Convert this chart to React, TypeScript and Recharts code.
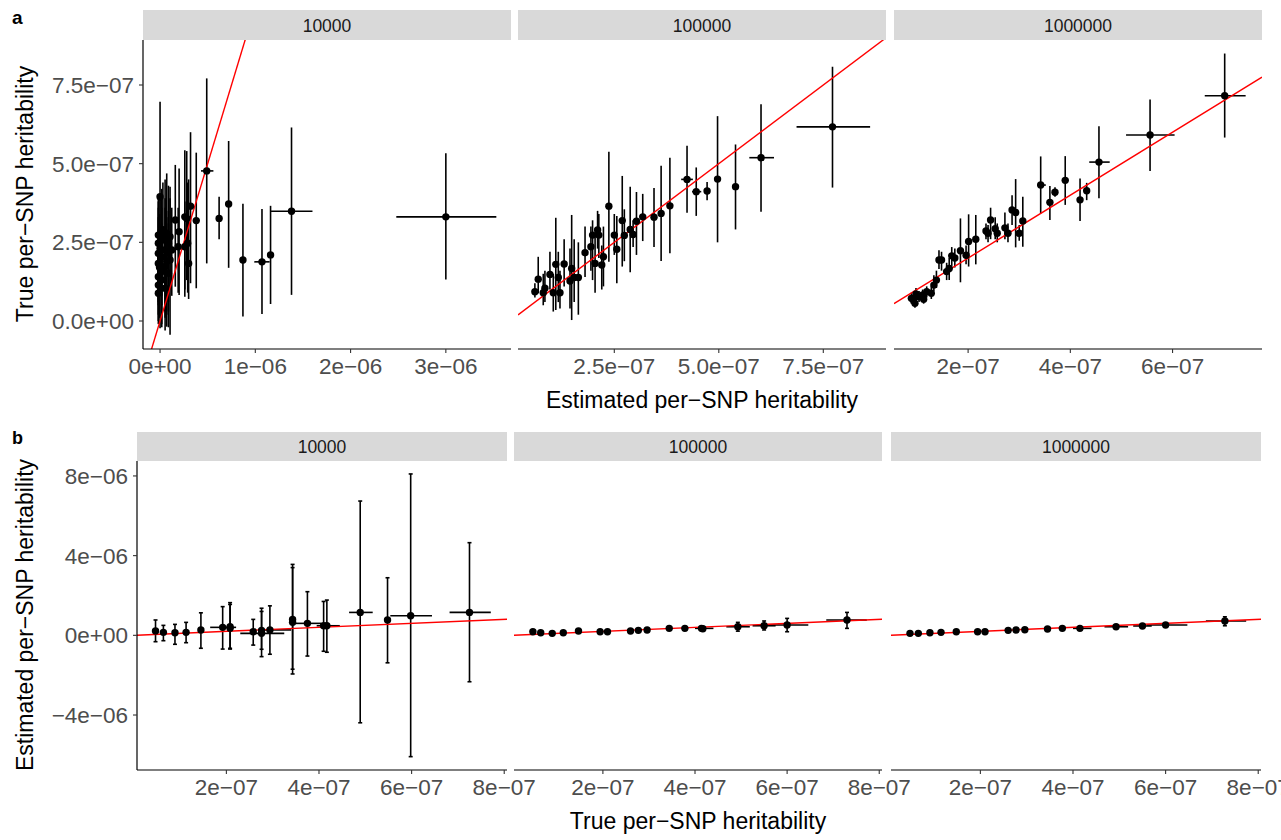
import React from 'react';
import { ScatterChart, Scatter, XAxis, YAxis, ErrorBar, ReferenceLine } from 'recharts';

// all values are per-SNP heritability in units of 1e-7
// each row: [x, y, yLow, yHigh, xLow?, xHigh?]
type Row = number[];

const UNIT = 1e-7;
const facetLabels = ['10000', '100000', '1000000'];

// panel a: x = estimated, y = true
const estVsTrue10k: Row[] = [
  [30.0, 3.31, 1.32, 5.33, 24.8, 35.3],
  [13.8, 3.49, 0.83, 6.15, 11.65, 16.0],
  [11.6, 2.10, 0.54, 3.66],
  [10.7, 1.88, 0.22, 3.56, 9.9, 11.5],
  [8.7, 1.94, 0.14, 3.73],
  [7.2, 3.72, 1.69, 5.72, 7.0, 7.4],
  [6.2, 3.26, 2.60, 3.95],
  [4.9, 4.77, 1.83, 7.71, 4.3, 5.6],
  [3.8, 3.19, 1.04, 5.35],
  [3.2, 3.65, 1.20, 6.00],
  [2.8, 3.26, 1.30, 5.40],
  [2.6, 3.31, 0.77, 5.43],
  [2.9, 2.47, 0.90, 4.40],
  [3.0, 1.83, 0.70, 4.50],
  [2.0, 2.84, 0.83, 4.85],
  [1.6, 3.21, 1.09, 4.96],
  [1.9, 2.36, 0.90, 3.60],
  [2.6, 2.36, 1.00, 3.80],
  [1.05, 1.94, -0.44, 4.27],
  [0.7, 2.79, -0.18, 4.69],
  [0.0, 3.95, -0.23, 6.97],
  [-0.18, 2.73, 1.2, 3.9],
  [-0.18, 2.47, 0.9, 3.8],
  [-0.18, 2.15, 0.6, 3.6],
  [-0.18, 1.83, 0.5, 3.3],
  [-0.18, 1.41, 0.2, 2.9],
  [-0.18, 1.14, 0.0, 2.4],
  [-0.18, 0.88, -0.1, 2.2],
  [0.18, 2.57, 0.8, 4.2],
  [0.18, 2.04, 0.5, 3.6],
  [0.18, 1.57, -0.1, 3.1],
  [0.18, 1.30, -0.2, 2.9],
  [0.53, 2.68, 1.0, 4.5],
  [0.53, 2.26, 0.3, 3.9],
  [0.53, 1.73, 0.1, 3.6],
  [0.53, 1.04, -0.3, 2.6],
  [0.88, 2.47, 0.6, 4.3],
  [0.88, 2.15, 0.3, 3.5],
  [0.88, 1.52, -0.2, 3.1],
  [1.23, 2.26, 0.8, 3.6],
  [1.05, 2.68, 1.0, 3.9],
  [0.3, 2.9, 1.3, 4.4],
  [0.0, 2.3, 0.9, 3.9],
  [-0.05, 1.7, 0.1, 3.4],
  [0.7, 1.9, 0.2, 3.3],
];

const estVsTrue100k: Row[] = [
  [7.72, 6.17, 4.24, 8.08, 6.86, 8.62],
  [6.01, 5.19, 3.47, 6.89, 5.73, 6.32],
  [5.40, 4.27, 2.91, 5.61],
  [4.97, 4.51, 2.50, 6.51],
  [4.72, 4.13, 3.84, 4.42],
  [4.46, 4.11, 3.34, 4.88, 4.36, 4.58],
  [4.24, 4.50, 3.44, 5.57, 4.10, 4.38],
  [3.83, 3.66, 2.15, 5.19],
  [3.62, 3.42, 1.91, 4.93],
  [3.45, 3.30, 2.35, 4.23],
  [3.18, 3.31, 2.54, 4.04],
  [3.03, 3.17, 2.10, 4.10],
  [2.95, 2.75, 2.35, 3.20],
  [2.88, 2.91, 1.55, 4.27],
  [2.74, 2.72, 1.90, 3.55],
  [2.69, 3.19, 1.73, 4.61],
  [2.56, 2.28, 1.20, 3.34],
  [2.50, 2.73, 2.10, 3.40],
  [2.37, 3.65, 1.88, 5.38],
  [2.24, 2.04, 1.10, 3.00],
  [2.20, 1.78, 1.00, 2.40],
  [2.13, 2.73, 2.00, 3.40],
  [2.10, 2.89, 2.30, 3.50],
  [2.04, 1.83, 0.90, 2.80],
  [1.98, 2.73, 1.30, 3.20],
  [1.94, 2.36, 1.60, 3.00],
  [1.80, 2.17, 1.40, 3.00],
  [1.64, 1.38, 0.20, 2.50],
  [1.54, 1.38, 0.60, 2.60],
  [1.48, 1.67, 0.03, 3.37],
  [1.44, 1.27, 0.40, 2.30],
  [1.30, 1.81, 1.10, 2.60],
  [1.20, 0.90, 0.40, 1.60],
  [1.16, 1.38, 0.60, 2.20],
  [1.10, 1.80, 0.35, 3.28],
  [1.04, 0.90, 0.30, 1.50],
  [0.96, 1.48, 1.00, 2.20],
  [0.84, 1.04, 0.60, 1.60],
  [0.80, 0.90, 0.50, 1.50],
  [0.68, 1.33, 0.88, 2.04],
  [0.60, 0.93, 0.75, 1.20],
];

const estVsTrue1m: Row[] = [
  [7.02, 7.16, 5.83, 8.50, 6.63, 7.43],
  [5.56, 5.91, 4.77, 7.04, 5.09, 6.04],
  [4.56, 5.05, 3.90, 6.19, 4.37, 4.77],
  [4.32, 4.14, 3.84, 4.39],
  [4.19, 3.85, 3.18, 4.53],
  [3.90, 4.47, 3.69, 5.24, 3.84, 3.96],
  [3.70, 4.09, 3.95, 4.25],
  [3.60, 3.77, 3.21, 4.29],
  [3.42, 4.32, 3.42, 5.23, 3.35, 3.52],
  [3.07, 3.18, 2.36, 3.95],
  [3.00, 2.79, 2.55, 3.05],
  [2.93, 3.45, 2.34, 4.51],
  [2.86, 3.53, 3.05, 4.00],
  [2.78, 2.79, 2.50, 3.10],
  [2.72, 2.96, 2.60, 3.45],
  [2.57, 2.79, 2.50, 3.10],
  [2.53, 2.93, 2.60, 3.30],
  [2.44, 3.21, 2.60, 3.60],
  [2.39, 2.79, 2.50, 3.05],
  [2.35, 2.86, 2.60, 3.10],
  [2.15, 2.60, 1.80, 3.37],
  [2.01, 2.53, 1.73, 3.39],
  [1.96, 2.09, 1.80, 2.40],
  [1.85, 2.23, 1.23, 3.26],
  [1.74, 2.00, 1.70, 2.30],
  [1.68, 2.07, 1.75, 2.35],
  [1.63, 1.67, 1.30, 2.00],
  [1.58, 1.57, 1.30, 1.85],
  [1.48, 1.94, 1.60, 2.20],
  [1.43, 1.94, 1.65, 2.25],
  [1.38, 1.30, 1.05, 1.60],
  [1.33, 1.14, 0.95, 1.45],
  [1.28, 0.88, 0.70, 1.10],
  [1.19, 0.93, 0.75, 1.10],
  [1.13, 0.69, 0.55, 0.85],
  [1.11, 0.83, 0.65, 1.00],
  [1.04, 0.77, 0.60, 0.95],
  [0.98, 0.86, 0.70, 1.05],
  [0.96, 0.56, 0.42, 0.70],
  [0.93, 0.67, 0.50, 0.85],
  [0.89, 0.72, 0.55, 0.90],
];

// panel b: x = true, y = estimated
const trueVsEst10k: Row[] = [
  [7.25, 11.5, -23.3, 46.5, 6.82, 7.71],
  [5.98, 9.8, -60.9, 81.0, 5.54, 6.44],
  [5.48, 7.7, -13.8, 28.9],
  [4.89, 11.5, -43.9, 67.4, 4.65, 5.16],
  [4.17, 4.8, -8.5, 17.7, 3.95, 4.45],
  [4.10, 4.8, -8.0, 17.0],
  [3.75, 6.0, -10.4, 21.9, 3.45, 4.05],
  [3.43, 8.0, -19.4, 35.6],
  [3.43, 6.5, -17.0, 34.0],
  [2.94, 2.7, -9.5, 14.8, 2.75, 3.4],
  [2.76, 1.0, -10.7, 13.6, 2.3, 3.25],
  [2.76, 2.5, -7.0, 12.0],
  [2.58, 1.8, -4.9, 8.0],
  [2.08, 4.3, -6.9, 16.4],
  [2.08, 3.5, -6.5, 15.5],
  [1.92, 4.0, -6.9, 14.4, 1.65, 2.21],
  [1.45, 2.7, -6.5, 11.3],
  [1.13, 1.5, -3.7, 6.5],
  [0.89, 1.3, -4.5, 5.5],
  [0.64, 1.5, -2.7, 5.0],
  [0.47, 2.2, -3.2, 7.7],
];

const trueVsEst100k: Row[] = [
  [0.48, 1.8, 1.3, 2.3],
  [0.65, 1.3, 0.9, 1.7],
  [0.90, 1.0, 0.6, 1.4],
  [1.14, 1.3, 0.9, 1.7],
  [1.47, 2.2, 1.7, 2.7],
  [1.94, 1.8, 1.3, 2.3],
  [2.10, 1.8, 1.3, 2.3],
  [2.60, 2.2, 1.7, 2.7],
  [2.77, 2.5, 2.0, 3.0],
  [2.96, 2.7, 2.2, 3.2],
  [3.44, 3.5, 3.0, 4.0],
  [3.78, 3.5, 3.0, 4.0],
  [4.14, 3.5, 2.9, 4.1, 4.0, 4.4],
  [4.17, 3.3, 2.7, 3.9],
  [4.93, 4.3, 2.1, 6.5, 4.68, 5.19],
  [5.50, 4.8, 2.7, 7.2, 5.25, 5.75],
  [6.00, 5.2, 1.8, 8.5, 5.55, 6.46],
  [7.30, 7.7, 3.5, 11.5, 6.85, 7.73],
];

const trueVsEst1m: Row[] = [
  [0.48, 1.0, 0.7, 1.3],
  [0.66, 1.0, 0.7, 1.3],
  [0.91, 1.3, 1.0, 1.6],
  [1.15, 1.5, 1.2, 1.8],
  [1.48, 1.8, 1.5, 2.1],
  [1.94, 1.8, 1.5, 2.1],
  [2.10, 1.8, 1.5, 2.1],
  [2.60, 2.5, 2.2, 2.8],
  [2.77, 2.7, 2.4, 3.0],
  [2.96, 2.8, 2.5, 3.1],
  [3.45, 3.2, 2.9, 3.5],
  [3.77, 3.5, 3.2, 3.8],
  [4.15, 3.5, 3.1, 3.9, 4.0, 4.4],
  [4.93, 4.3, 3.8, 4.8, 4.68, 5.19],
  [5.50, 4.7, 4.1, 5.3, 5.3, 5.7],
  [6.00, 5.2, 4.6, 5.8, 5.6, 6.47],
  [7.28, 7.2, 4.8, 9.3, 6.87, 7.74],
];

const FONT = "'Liberation Sans', Arial, Helvetica, sans-serif";

// R style scientific labels, e.g. 2.5e-07
function sci(v: number, digits: number) {
  const [m, e] = (v * UNIT).toExponential(digits).split('e');
  const sign = e[0] === '-' ? '\u2212' : '+';
  const ex = e.replace(/[+-]/, '').padStart(2, '0');
  return m.replace('-', '\u2212') + 'e' + sign + ex;
}

const toPoints = (rows: Row[]) =>
  rows.map(([x, y, yLo, yHi, xLo = x, xHi = x]) => ({
    x,
    y,
    ey: [y - yLo, yHi - y],
    ex: [x - xLo, xHi - x],
  }));

const Dot = (p: any) => <circle cx={p.cx} cy={p.cy} r={3.7} fill="#000" />;

type PanelProps = {
  rows: Row[];
  left: number;
  top: number;
  w: number;
  h: number;
  xDomain: number[];
  yDomain: number[];
  xTicks: number[];
  yTicks: number[];
  xDigits: number;
  yDigits: number;
  yAxisW: number;
  cap: number;
};

function Panel(props: PanelProps) {
  const { rows, left, top, w, h, xDomain, yDomain, xTicks, yTicks, xDigits, yDigits, yAxisW, cap } = props;
  const data = toPoints(rows);
  const pad = 40;
  return (
    <div style={{ position: 'absolute', left: left - yAxisW, top }}>
      <ScatterChart width={yAxisW + w + pad} height={h + 50} margin={{ top: 0, right: pad, bottom: 0, left: 0 }}>
        <XAxis
          type="number"
          dataKey="x"
          domain={xDomain}
          ticks={xTicks}
          interval={0}
          allowDataOverflow
          height={50}
          tickFormatter={(v: number) => sci(v, xDigits)}
          tick={{ fill: '#4d4d4d', fontSize: 22.5, fontFamily: FONT }}
          tickSize={4}
          tickMargin={5}
          axisLine={{ stroke: '#000', strokeWidth: 1.2 }}
          tickLine={{ stroke: '#333', strokeWidth: 1.1 }}
        />
        <YAxis
          type="number"
          dataKey="y"
          domain={yDomain}
          ticks={yTicks}
          interval={0}
          allowDataOverflow
          hide={yAxisW === 0}
          width={yAxisW}
          tickFormatter={(v: number) => sci(v, yDigits)}
          tick={{ fill: '#4d4d4d', fontSize: 22.5, fontFamily: FONT }}
          tickSize={4}
          tickMargin={5}
          axisLine={{ stroke: '#000', strokeWidth: 1.2 }}
          tickLine={{ stroke: '#333', strokeWidth: 1.1 }}
        />
        <Scatter data={data} isAnimationActive={false} shape={Dot}>
          <ErrorBar dataKey="ey" direction="y" width={cap} stroke="#000" strokeWidth={1.6} />
          <ErrorBar dataKey="ex" direction="x" width={0} stroke="#000" strokeWidth={1.6} />
        </Scatter>
        <ReferenceLine
          segment={[
            { x: xDomain[0], y: xDomain[0] },
            { x: xDomain[1], y: xDomain[1] },
          ]}
          stroke="#ff0000"
          strokeWidth={1.4}
          ifOverflow="hidden"
        />
      </ScatterChart>
    </div>
  );
}

const topY = [-0.89, 8.93];
const topYTicks = [0, 2.5, 5, 7.5];
const botX = [0.07, 8.06];
const botXTicks = [2, 4, 6, 8];
const botY = [-67.6, 87.5];
const botYTicks = [-40, 0, 40, 80];

const topStrips = [
  { x: 143, w: 368 },
  { x: 518, w: 368 },
  { x: 894, w: 368 },
];
const botStrips = [
  { x: 137, w: 370 },
  { x: 514, w: 368 },
  { x: 891, w: 370 },
];

export default function App() {
  return (
    <div style={{ position: 'absolute', left: 0, top: 0, width: 1281, height: 840, overflow: 'hidden', background: '#fff', fontFamily: FONT }}>
      <svg width={1281} height={840} style={{ position: 'absolute', left: 0, top: 0 }}>
        {topStrips.map((s, i) => (
          <g key={'t' + i}>
            <rect x={s.x} y={10} width={s.w} height={30} fill="#d9d9d9" />
            <text x={s.x + s.w / 2} y={31.5} textAnchor="middle" fontSize={17.5} fill="#1a1a1a" fontFamily={FONT}>
              {facetLabels[i]}
            </text>
          </g>
        ))}
        {botStrips.map((s, i) => (
          <g key={'b' + i}>
            <rect x={s.x} y={432} width={s.w} height={29} fill="#d9d9d9" />
            <text x={s.x + s.w / 2} y={452.5} textAnchor="middle" fontSize={17.5} fill="#1a1a1a" fontFamily={FONT}>
              {facetLabels[i]}
            </text>
          </g>
        ))}
        <text x={12} y={24} fontSize={19} fontWeight="bold" fontFamily={FONT}>a</text>
        <text x={12} y={444} fontSize={18} fontWeight="bold" fontFamily={FONT}>b</text>
        <text x={702} y={408} textAnchor="middle" fontSize={23} fontFamily={FONT}>
          Estimated per{'\u2212'}SNP heritability
        </text>
        <text x={698} y={829} textAnchor="middle" fontSize={23} fontFamily={FONT}>
          True per{'\u2212'}SNP heritability
        </text>
        <text transform="translate(33,194) rotate(-90)" textAnchor="middle" fontSize={23} fontFamily={FONT}>
          True per{'\u2212'}SNP heritability
        </text>
        <text transform="translate(33,615) rotate(-90)" textAnchor="middle" fontSize={23} fontFamily={FONT}>
          Estimated per{'\u2212'}SNP heritability
        </text>
      </svg>

      <Panel rows={estVsTrue10k} left={143} top={40} w={368} h={309} xDomain={[-1.79, 36.84]} yDomain={topY}
        xTicks={[0, 10, 20, 30]} yTicks={topYTicks} xDigits={0} yDigits={1} yAxisW={103} cap={0} />
      <Panel rows={estVsTrue100k} left={518} top={40} w={368} h={309} xDomain={[0.196, 9.0]} yDomain={topY}
        xTicks={[2.5, 5, 7.5]} yTicks={topYTicks} xDigits={1} yDigits={1} yAxisW={0} cap={0} />
      <Panel rows={estVsTrue1m} left={894} top={40} w={368} h={309} xDomain={[0.55, 7.75]} yDomain={topY}
        xTicks={[2, 4, 6]} yTicks={topYTicks} xDigits={0} yDigits={1} yAxisW={0} cap={0} />

      <Panel rows={trueVsEst10k} left={137} top={461} w={370} h={309} xDomain={botX} yDomain={botY}
        xTicks={botXTicks} yTicks={botYTicks} xDigits={0} yDigits={0} yAxisW={107} cap={2} />
      <Panel rows={trueVsEst100k} left={514} top={461} w={368} h={309} xDomain={botX} yDomain={botY}
        xTicks={botXTicks} yTicks={botYTicks} xDigits={0} yDigits={0} yAxisW={0} cap={2} />
      <Panel rows={trueVsEst1m} left={891} top={461} w={370} h={309} xDomain={botX} yDomain={botY}
        xTicks={botXTicks} yTicks={botYTicks} xDigits={0} yDigits={0} yAxisW={0} cap={2} />
    </div>
  );
}
